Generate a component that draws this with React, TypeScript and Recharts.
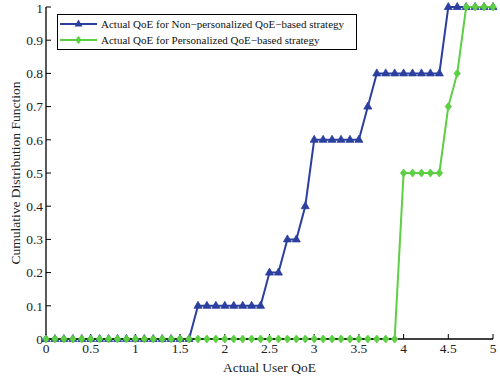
import { LineChart, Line, XAxis, YAxis, Label } from 'recharts';

// QoE sample points (x axis), 0 to 5 in steps of 0.1
const qoe = [
  0, 0.1, 0.2, 0.3, 0.4, 0.5, 0.6, 0.7, 0.8, 0.9,
  1, 1.1, 1.2, 1.3, 1.4, 1.5, 1.6, 1.7, 1.8, 1.9,
  2, 2.1, 2.2, 2.3, 2.4, 2.5, 2.6, 2.7, 2.8, 2.9,
  3, 3.1, 3.2, 3.3, 3.4, 3.5, 3.6, 3.7, 3.8, 3.9,
  4, 4.1, 4.2, 4.3, 4.4, 4.5, 4.6, 4.7, 4.8, 4.9, 5,
];

const nonPersonalized = [
  0, 0, 0, 0, 0, 0, 0, 0, 0, 0,
  0, 0, 0, 0, 0, 0, 0, 0.1, 0.1, 0.1,
  0.1, 0.1, 0.1, 0.1, 0.1, 0.2, 0.2, 0.3, 0.3, 0.4,
  0.6, 0.6, 0.6, 0.6, 0.6, 0.6, 0.7, 0.8, 0.8, 0.8,
  0.8, 0.8, 0.8, 0.8, 0.8, 1, 1, 1, 1, 1, 1,
];

const personalized = [
  0, 0, 0, 0, 0, 0, 0, 0, 0, 0,
  0, 0, 0, 0, 0, 0, 0, 0, 0, 0,
  0, 0, 0, 0, 0, 0, 0, 0, 0, 0,
  0, 0, 0, 0, 0, 0, 0, 0, 0, 0,
  0.5, 0.5, 0.5, 0.5, 0.5, 0.7, 0.8, 1, 1, 1, 1,
];

const xTicks = [0, 0.5, 1, 1.5, 2, 2.5, 3, 3.5, 4, 4.5, 5];
const yTicks = [0, 0.1, 0.2, 0.3, 0.4, 0.5, 0.6, 0.7, 0.8, 0.9, 1];

const seriesNames = [
  'Actual QoE for Non\u2212personalized QoE\u2212based strategy',
  'Actual QoE for Personalized QoE\u2212based strategy',
];

const BLUE = '#2b3f9e';
const GREEN = '#5ccf42';
const FONT = '"Liberation Serif", "Times New Roman", serif';

const data = qoe.map((x, i) => ({ x, a: nonPersonalized[i], b: personalized[i] }));

const Triangle = ({ cx, cy }: any) => (
  <path d={`M${cx},${cy - 4.5} L${cx + 4},${cy + 2.5} L${cx - 4},${cy + 2.5} Z`} fill={BLUE} stroke={BLUE} strokeWidth={0.8} />
);

const Diamond = ({ cx, cy }: any) => (
  <path d={`M${cx},${cy - 4} L${cx + 3.2},${cy} L${cx},${cy + 4} L${cx - 3.2},${cy} Z`} fill={GREEN} stroke={GREEN} strokeWidth={0.8} />
);

const fmt = (v: number) => String(v);
const blank = () => '';
const tickStyle = { fill: '#222', fontSize: 13.5, fontFamily: FONT };

const LegendBox = () => (
  <div
    style={{
      position: 'absolute',
      left: 57,
      top: 14,
      width: 298,
      height: 34,
      border: '1px solid #000',
      background: '#fff',
      fontFamily: FONT,
      fontSize: 11,
      color: '#111',
    }}
  >
    {[
      { color: BLUE, mark: 'tri' },
      { color: GREEN, mark: 'dia' },
    ].map((e, i) => (
      <div key={i} style={{ position: 'absolute', left: 2, top: 2 + i * 16, height: 14, display: 'flex', alignItems: 'center' }}>
        <svg width={38} height={14}>
          <line x1={0} y1={7} x2={37} y2={7} stroke={e.color} strokeWidth={2} />
          {e.mark === 'tri' ? (
            <path d="M18.5,2.5 L22.5,9.5 L14.5,9.5 Z" fill={e.color} />
          ) : (
            <path d="M18.5,3 L21.7,7 L18.5,11 L15.3,7 Z" fill={e.color} />
          )}
        </svg>
        <span style={{ marginLeft: 3, whiteSpace: 'nowrap' }}>{seriesNames[i]}</span>
      </div>
    ))}
  </div>
);

export default function App() {
  return (
    <div style={{ position: 'absolute', left: 0, top: 0, width: 500, height: 381, background: '#fff' }}>
      <LineChart width={500} height={381} data={data} margin={{ top: 7, right: 7, left: 0, bottom: 0 }}>
        <XAxis
          xAxisId="bottom"
          dataKey="x"
          type="number"
          domain={[0, 5]}
          ticks={xTicks}
          tickFormatter={fmt}
          height={42}
          tickSize={-5}
          tickMargin={9}
          axisLine={{ stroke: '#000', strokeWidth: 1.3 }}
          tickLine={{ stroke: '#000' }}
          tick={tickStyle}
        >
          <Label value="Actual User QoE" position="insideBottom" offset={9} style={{ fill: '#222', fontSize: 13.5, fontFamily: FONT }} />
        </XAxis>
        <XAxis
          xAxisId="top"
          orientation="top"
          dataKey="x"
          type="number"
          domain={[0, 5]}
          ticks={xTicks}
          tickFormatter={blank}
          height={0}
          tickSize={-5}
          axisLine={{ stroke: '#000', strokeWidth: 1.3 }}
          tickLine={{ stroke: '#000' }}
        />
        <YAxis
          yAxisId="left"
          type="number"
          domain={[0, 1]}
          ticks={yTicks}
          tickFormatter={fmt}
          width={46}
          tickSize={-5}
          tickMargin={8}
          axisLine={{ stroke: '#000', strokeWidth: 1.3 }}
          tickLine={{ stroke: '#000' }}
          tick={tickStyle}
        >
          <Label
            value="Cumulative Distribution Function"
            angle={-90}
            position="insideLeft"
            offset={15}
            style={{ textAnchor: 'middle', fill: '#222', fontSize: 13.5, fontFamily: FONT }}
          />
        </YAxis>
        <YAxis
          yAxisId="right"
          orientation="right"
          type="number"
          domain={[0, 1]}
          ticks={yTicks}
          tickFormatter={blank}
          width={0}
          tickSize={-5}
          axisLine={{ stroke: '#000', strokeWidth: 1.3 }}
          tickLine={{ stroke: '#000' }}
        />
        <Line
          xAxisId="bottom"
          yAxisId="left"
          dataKey="a"
          stroke={BLUE}
          strokeWidth={2}
          type="linear"
          dot={<Triangle />}
          activeDot={false}
          isAnimationActive={false}
        />
        <Line
          xAxisId="bottom"
          yAxisId="left"
          dataKey="b"
          stroke={GREEN}
          strokeWidth={2}
          type="linear"
          dot={<Diamond />}
          activeDot={false}
          isAnimationActive={false}
        />
      </LineChart>
      <LegendBox />
    </div>
  );
}
